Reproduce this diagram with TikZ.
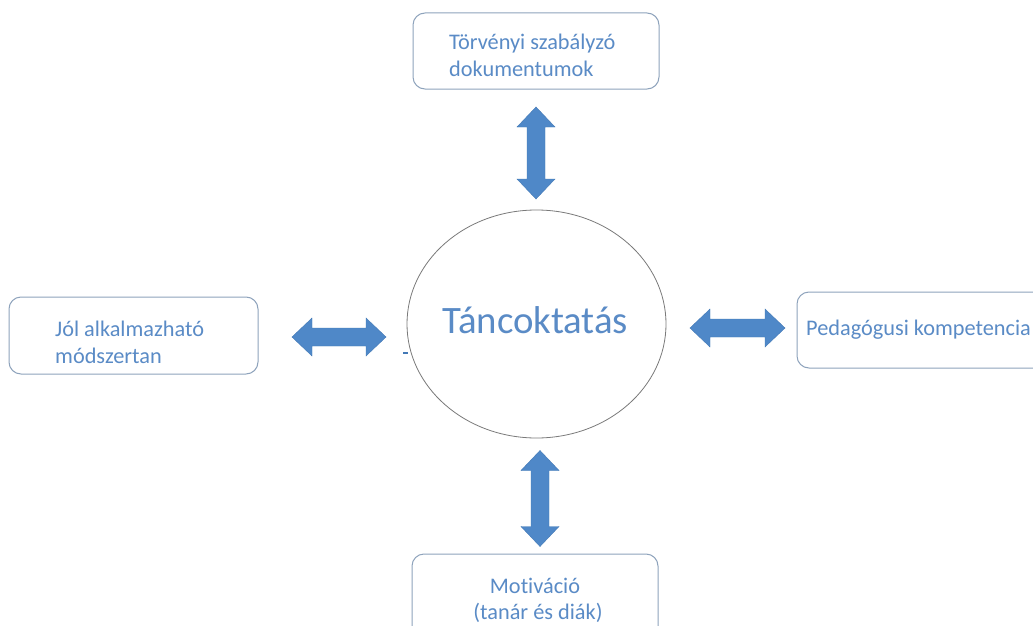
\documentclass[tikz,border=0pt]{standalone}
\usepackage{fontspec}
\setmainfont{Carlito}[Ligatures=NoCommon]
\usetikzlibrary{shapes.geometric}
\definecolor{txtblue}{HTML}{5A8BC6}
\definecolor{arrblue}{HTML}{4F88C8}
\definecolor{arredge}{HTML}{4379B6}
\definecolor{boxline}{HTML}{8EA3BC}
\definecolor{ringline}{HTML}{7A7A7A}
\tikzset{
  roundbox/.style={draw=boxline, line width=1pt, rounded corners=12pt, fill=white, inner sep=0pt},
  hubring/.style={ellipse, draw=ringline, line width=0.8pt, inner sep=0pt},
  boxtext/.style={text=txtblue, font=\fontsize{22.3}{27}\selectfont, inner sep=0pt},
  hubtext/.style={text=txtblue, font=\fontsize{38.8}{44}\selectfont, inner sep=0pt},
  arrowfill/.style={fill=arrblue, draw=arredge, line width=0.4pt, line join=miter}
}
% double-headed block arrow: centre, direction angle, half length
\newcommand{\blockarrow}[3]{%
  \begin{scope}[shift={(#1)}, rotate=#2]
    \filldraw[arrowfill] (-#3,0) -- (-#3+20,19) -- (-#3+20,9) -- (#3-20,9) -- (#3-20,19)
      -- (#3,0) -- (#3-20,-19) -- (#3-20,-9) -- (-#3+20,-9) -- (-#3+20,-19) -- cycle;
  \end{scope}}
\begin{document}
\begin{tikzpicture}[x=1pt, y=-1pt]
  \clip (0,0) rectangle (1033,626);
  \fill[white] (0,0) rectangle (1033,626);

  % central ellipse
  \node[hubring, minimum width=259pt, minimum height=228pt] (hub) at (536.5,324) {};
  \node[hubtext, anchor=base west] (hublabel) at (442,333) {Táncoktatás};

  % surrounding boxes
  \node[roundbox, minimum width=246pt, minimum height=76pt] (top) at (536,51) {};
  \node[roundbox, minimum width=249pt, minimum height=77pt] (left) at (133.5,335.5) {};
  \node[roundbox, minimum width=260pt, minimum height=76pt] (right) at (927,330) {};
  \node[roundbox, minimum width=246pt, minimum height=90pt] (bottom) at (535,599) {};

  % box labels
  \node[boxtext, anchor=base west] (top1) at (449,50) {Törvényi szabályzó};
  \node[boxtext, anchor=base west] (top2) at (449,77) {dokumentumok};
  \node[boxtext, anchor=base west] (left1) at (55,336) {Jól alkalmazható};
  \node[boxtext, anchor=base west] (left2) at (55,363) {módszertan};
  \node[boxtext, anchor=base west] (right1) at (806,335) {Pedagógusi kompetencia};
  \node[boxtext, anchor=base] (bottom1) at (535,593) {Motiváció};
  \node[boxtext, anchor=base] (bottom2) at (538,619) {(tanár és diák)};

  % arrow centres between the hub and each box
  \coordinate (toparrow) at (536,153);
  \coordinate (leftarrow) at (339,337);
  \coordinate (rightarrow) at (737.5,328);
  \coordinate (bottomarrow) at (540,498.5);
  \blockarrow{toparrow}{90}{46}
  \blockarrow{leftarrow}{0}{47}
  \blockarrow{rightarrow}{0}{47.5}
  \blockarrow{bottomarrow}{90}{48}

  % small stray mark beside the hub
  \coordinate (markA) at (403,353);
  \coordinate (markB) at (408,353);
  \draw[arredge, line width=1.8pt] (markA) -- (markB);
\end{tikzpicture}
\end{document}
